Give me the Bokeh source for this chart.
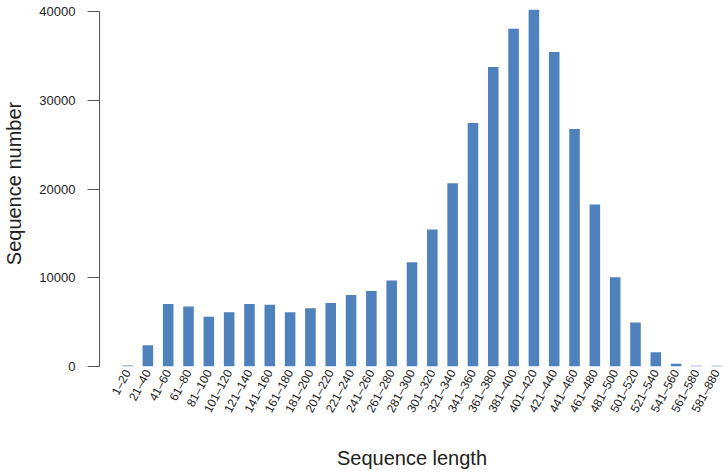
from bokeh.plotting import figure
from bokeh.models import Range1d, FixedTicker, ColumnDataSource
from bokeh.embed import file_html
from bokeh.resources import INLINE

categories = ["1–20", "21–40", "41–60", "61–80", "81–100", "101–120", "121–140",
              "141–160", "161–180", "181–200", "201–220", "221–240", "241–260",
              "261–280", "281–300", "301–320", "321–340", "341–360", "361–380",
              "381–400", "401–420", "421–440", "441–460", "461–480", "481–500",
              "501–520", "521–540", "541–560", "561–580", "581–880"]
counts = [120, 2400, 7050, 6750, 5600, 6100, 7050, 6950, 6100, 6550, 7150, 8050,
          8500, 9700, 11750, 15450, 20650, 27450, 33750, 38050, 40200, 35450,
          26750, 18250, 10050, 4950, 1600, 300, 80, 80]
y_ticks = [0, 10000, 20000, 30000, 40000]

xpos = list(range(len(categories)))
src = ColumnDataSource(data=dict(x=xpos, top=counts, label=categories))

W, H = 724, 472
LEFT = 98
FRAME_H = 366
spacing = 20.35
x_start = -28.1 / spacing
x_end = x_start + (W - LEFT) / spacing

p = figure(width=W, height=H, output_backend="svg", toolbar_location=None,
           x_range=Range1d(x_start, x_end), y_range=Range1d(0, 41240),
           min_border_left=LEFT, min_border_right=0, min_border_top=0,
           min_border_bottom=H - FRAME_H)

p.vbar(x="x", top="top", width=0.52, source=src, fill_color="#4F81BD",
       line_color=None)

p.outline_line_color = None
p.xgrid.visible = False
p.ygrid.visible = False
p.background_fill_color = "white"
p.border_fill_color = "white"

font = "Liberation Sans"

# y axis
ya = p.yaxis[0]
ya.ticker = FixedTicker(ticks=y_ticks)
ya.bounds = (y_ticks[0], y_ticks[-1])
ya.axis_line_color = "#555555"
ya.major_tick_line_color = "#555555"
ya.major_tick_out = 12
ya.major_tick_in = 0
ya.minor_tick_line_color = None
ya.major_label_standoff = 12
ya.major_label_text_font = font
ya.major_label_text_font_size = "13px"
ya.major_label_text_color = "#222222"
ya.axis_label = "Sequence number"
ya.axis_label_text_font = font
ya.axis_label_text_font_size = "20px"
ya.axis_label_text_font_style = "normal"
ya.axis_label_text_color = "#222222"
ya.axis_label_standoff = 11

# x axis
xa = p.xaxis[0]
xa.ticker = FixedTicker(ticks=xpos)
xa.major_label_overrides = {i: c for i, c in zip(xpos, categories)}
xa.axis_line_color = None
xa.major_tick_line_color = None
xa.major_tick_out = 0
xa.major_tick_in = 0
xa.minor_tick_line_color = None
xa.major_label_orientation = 1.08
xa.major_label_standoff = 4
xa.major_label_text_font = font
xa.major_label_text_font_size = "12px"
xa.major_label_text_color = "#222222"
xa.axis_label = "Sequence length"
xa.axis_label_text_font = font
xa.axis_label_text_font_size = "20px"
xa.axis_label_text_font_style = "normal"
xa.axis_label_text_color = "#222222"
xa.axis_label_standoff = 26

open("out.html", "w").write(file_html(p, INLINE))
